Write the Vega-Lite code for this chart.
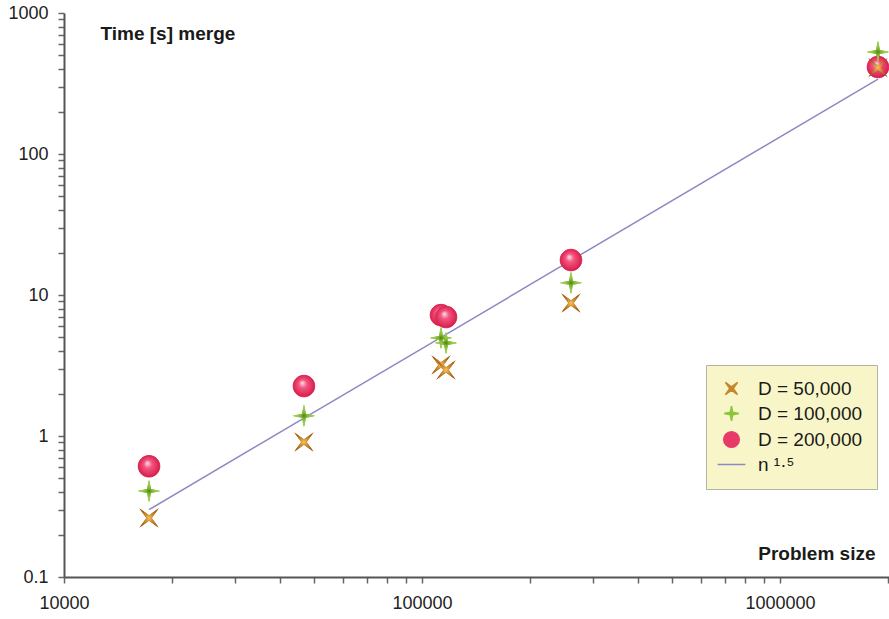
{
  "$schema": "https://vega.github.io/schema/vega-lite/v6.json",
  "width": 825,
  "height": 564,
  "autosize": {"type": "none"},
  "padding": {"left": 64, "top": 13, "right": 0, "bottom": 42},
  "background": "white",
  "config": {
    "view": {"stroke": null},
    "font": "Liberation Sans",
    "axis": {
      "grid": false,
      "domainColor": "#555555",
      "domainWidth": 2,
      "tickColor": "#666666",
      "tickWidth": 1.5,
      "tickSize": 6,
      "labelFont": "Liberation Sans",
      "labelFontSize": 18,
      "labelColor": "#222222",
      "labelOverlap": false,
      "labelBound": false,
      "labelFlush": false,
      "titleFont": "Liberation Sans",
      "titleFontSize": 19,
      "titleFontWeight": "bold",
      "titleColor": "#1a1a1a",
      "titleAngle": 0,
      "titleBaseline": "middle"
    }
  },
  "datasets": {
    "timings": [
      {"n": 17280, "time": 0.262, "series": "D = 50,000"},
      {"n": 17280, "time": 0.407, "series": "D = 100,000"},
      {"n": 17280, "time": 0.61, "series": "D = 200,000"},
      {"n": 46800, "time": 0.906, "series": "D = 50,000"},
      {"n": 46800, "time": 1.39, "series": "D = 100,000"},
      {"n": 46800, "time": 2.26, "series": "D = 200,000"},
      {"n": 113000, "time": 3.19, "series": "D = 50,000"},
      {"n": 113000, "time": 4.96, "series": "D = 100,000"},
      {"n": 113000, "time": 7.2, "series": "D = 200,000"},
      {"n": 116700, "time": 2.94, "series": "D = 50,000"},
      {"n": 116700, "time": 4.57, "series": "D = 100,000"},
      {"n": 116700, "time": 6.98, "series": "D = 200,000"},
      {"n": 260700, "time": 8.77, "series": "D = 50,000"},
      {"n": 260700, "time": 12.2, "series": "D = 100,000"},
      {"n": 260700, "time": 17.7, "series": "D = 200,000"},
      {"n": 1878000, "time": 410, "series": "D = 50,000"},
      {"n": 1878000, "time": 529, "series": "D = 100,000"},
      {"n": 1878000, "time": 414, "series": "D = 200,000"}
    ],
    "fit": [
      {"n": 17280, "time": 0.30},
      {"n": 46800, "time": 1.34},
      {"n": 113000, "time": 5.0},
      {"n": 260700, "time": 17.6},
      {"n": 1878000, "time": 340}
    ]
  },
  "layer": [
    {
      "data": {"name": "fit"},
      "mark": {"type": "line", "color": "#8d89c4", "strokeWidth": 1.5},
      "encoding": {
        "x": {"field": "n", "type": "quantitative"},
        "y": {"field": "time", "type": "quantitative"}
      }
    },
    {
      "data": {"name": "timings"},
      "mark": {"type": "point", "filled": true, "opacity": 1, "size": 576, "strokeWidth": 1},
      "encoding": {
        "x": {
          "field": "n",
          "type": "quantitative",
          "scale": {"type": "log", "domain": [10000, 2016000], "nice": false},
          "axis": {
            "title": "Problem size",
            "titleX": 811,
            "titleY": -24,
            "titleAlign": "right",
            "labelPadding": 11,
            "values": [10000, 20000, 30000, 40000, 50000, 60000, 70000, 80000, 90000,
                       100000, 200000, 300000, 400000, 500000, 600000, 700000, 800000, 900000,
                       1000000, 2000000],
            "labelExpr": "abs(log(datum.value)/LN10 - round(log(datum.value)/LN10)) < 0.001 ? format(datum.value, '~r') : ''"
          }
        },
        "y": {
          "field": "time",
          "type": "quantitative",
          "scale": {"type": "log", "domain": [0.1, 1000], "nice": false},
          "axis": {
            "title": "Time [s] merge",
            "titleX": 36,
            "titleY": 20,
            "titleAlign": "left",
            "labelPadding": 10,
            "values": [0.1, 0.2, 0.3, 0.4, 0.5, 0.6, 0.7, 0.8, 0.9,
                       1, 2, 3, 4, 5, 6, 7, 8, 9,
                       10, 20, 30, 40, 50, 60, 70, 80, 90,
                       100, 200, 300, 400, 500, 600, 700, 800, 900, 1000],
            "labelExpr": "abs(log(datum.value)/LN10 - round(log(datum.value)/LN10)) < 0.001 ? format(datum.value, '~r') : ''"
          }
        },
        "color": {
          "field": "series",
          "type": "nominal",
          "scale": {
            "domain": ["D = 50,000", "D = 100,000", "D = 200,000", "n ¹·⁵"],
            "range": ["#c4862e", "#8cc43c", "#e83a68", "#8d89c4"]
          },
          "legend": {
            "title": null,
            "orient": "none",
            "legendX": 642,
            "legendY": 352,
            "padding": 14,
            "rowPadding": 4,
            "symbolSize": 300,
            "symbolOffset": 2,
            "labelOffset": 17,
            "labelFont": "Liberation Sans",
            "labelFontSize": 19,
            "labelColor": "#1a1a1a",
            "fillColor": "#f8f6c8",
            "strokeColor": "#b4b4a4",
            "symbolStrokeWidth": 1.5
          }
        },
        "stroke": {
          "field": "series",
          "type": "nominal",
          "scale": {
            "domain": ["D = 50,000", "D = 100,000", "D = 200,000", "n ¹·⁵"],
            "range": ["#c4862e", "#8cc43c", "#e83a68", "#8d89c4"]
          }
        },
        "shape": {
          "field": "series",
          "type": "nominal",
          "scale": {
            "domain": ["D = 50,000", "D = 100,000", "D = 200,000", "n ¹·⁵"],
            "range": [
              "M-0.7,-0.7L0,-0.2L0.7,-0.7L0.2,0L0.7,0.7L0,0.2L-0.7,0.7L-0.2,0Z",
              "M0,-0.85L0.14,-0.14L0.85,0L0.14,0.14L0,0.85L-0.14,0.14L-0.85,0L-0.14,-0.14Z",
              "M0.9,0A0.9,0.9 0 1,1 -0.9,0A0.9,0.9 0 1,1 0.9,0Z",
              "M-1.6,0L1.6,0"
            ]
          }
        }
      }
    },
    {
      "data": {"name": "timings"},
      "transform": [{"filter": "datum.series === 'D = 200,000'"}],
      "mark": {
        "type": "point",
        "filled": true,
        "opacity": 1,
        "size": 576,
        "strokeWidth": 0,
        "shape": "M0.9,0A0.9,0.9 0 1,1 -0.9,0A0.9,0.9 0 1,1 0.9,0Z",
        "fill": {
          "gradient": "radial",
          "x1": 0.42, "y1": 0.35, "r1": 0,
          "x2": 0.5, "y2": 0.5, "r2": 0.55,
          "stops": [
            {"offset": 0, "color": "#ffe0ea"},
            {"offset": 0.35, "color": "#f2557f"},
            {"offset": 0.8, "color": "#e02a58"},
            {"offset": 1, "color": "#c01a45"}
          ]
        }
      },
      "encoding": {
        "x": {"field": "n", "type": "quantitative"},
        "y": {"field": "time", "type": "quantitative"}
      }
    },
    {
      "data": {"name": "timings"},
      "transform": [{"filter": "datum.series === 'D = 100,000'"}],
      "mark": {
        "type": "point",
        "filled": true,
        "opacity": 1,
        "size": 576,
        "strokeWidth": 0,
        "shape": "M0,-1L0.14,-0.14L1,0L0.14,0.14L0,1L-0.14,0.14L-1,0L-0.14,-0.14Z",
        "fill": {
          "gradient": "radial",
          "x1": 0.5, "y1": 0.5, "r1": 0,
          "x2": 0.5, "y2": 0.5, "r2": 0.5,
          "stops": [
            {"offset": 0, "color": "#4f7e1a"},
            {"offset": 0.25, "color": "#80b832"},
            {"offset": 1, "color": "#c0e47a"}
          ]
        }
      },
      "encoding": {
        "x": {"field": "n", "type": "quantitative"},
        "y": {"field": "time", "type": "quantitative"}
      }
    },
    {
      "data": {"name": "timings"},
      "transform": [{"filter": "datum.series === 'D = 50,000'"}],
      "mark": {
        "type": "point",
        "filled": true,
        "opacity": 1,
        "size": 576,
        "strokeWidth": 0,
        "shape": "M-0.83,-0.83L0,-0.2L0.83,-0.83L0.2,0L0.83,0.83L0,0.2L-0.83,0.83L-0.2,0Z",
        "fill": {
          "gradient": "radial",
          "x1": 0.5, "y1": 0.5, "r1": 0,
          "x2": 0.5, "y2": 0.5, "r2": 0.5,
          "stops": [
            {"offset": 0, "color": "#f2c060"},
            {"offset": 0.5, "color": "#c8862c"},
            {"offset": 1, "color": "#9a5c18"}
          ]
        }
      },
      "encoding": {
        "x": {"field": "n", "type": "quantitative"},
        "y": {"field": "time", "type": "quantitative"}
      }
    }
  ]
}
